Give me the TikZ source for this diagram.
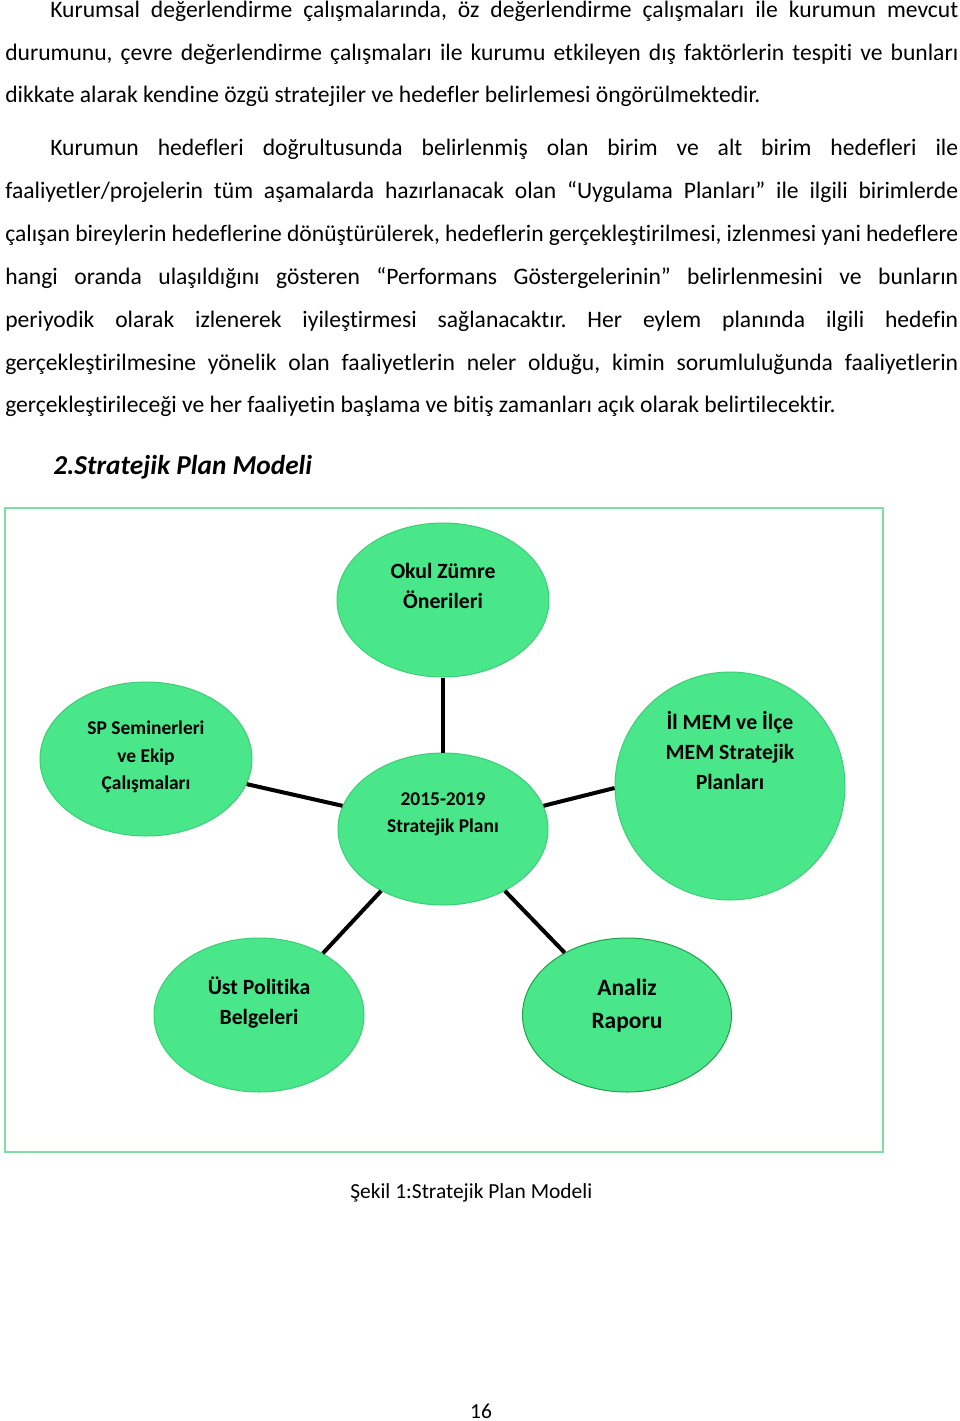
\documentclass[tikz,border=0pt]{standalone}
\usepackage{fontspec}
\setmainfont[Ligatures={NoCommon,NoRare,NoContextual}]{Carlito}
\usetikzlibrary{shapes.geometric}
\definecolor{bubble}{RGB}{74,230,138}
\definecolor{bubbleline}{RGB}{60,205,120}
\definecolor{bubbledark}{RGB}{35,160,75}
\definecolor{frameg}{RGB}{125,222,165}
\frenchspacing
\newcommand\bodyfnt{\fontsize{17.7}{21}\selectfont}
\newcommand\capfnt{\fontsize{16.1}{19}\selectfont}
\newcommand\fullw[1]{\makebox[714.75pt][s]{#1}}
\newcommand\indw[1]{\makebox[681pt][s]{#1}}
\begin{document}
\begin{tikzpicture}[x=0.75pt,y=-0.75pt,
  bodyline/.style={anchor=base west,inner sep=0pt,font=\bodyfnt},
  bub/.style={ellipse,draw=bubbleline,line width=0.75pt,fill=bubble,inner sep=0pt},
  btext/.style={align=center,inner sep=0pt,font=\fontsize{16.3}{22.5}\selectfont\bfseries},
  btextsm/.style={align=center,inner sep=0pt,font=\fontsize{14.6}{20.5}\selectfont\bfseries},
  btextlg/.style={align=center,inner sep=0pt,font=\fontsize{17.6}{24.75}\selectfont\bfseries},
  conn/.style={line width=3pt,black}]
\useasboundingbox (0,0) rectangle (960,1421);
\fill[white] (0,0) rectangle (960,1421);

% paragraph 1
\node[bodyline] (p1a) at (50,17) {\indw{Kurumsal değerlendirme çalışmalarında, öz değerlendirme çalışmaları ile kurumun mevcut}};
\node[bodyline] (p1b) at (5,60) {\fullw{durumunu, çevre değerlendirme çalışmaları ile kurumu etkileyen dış faktörlerin tespiti ve bunları}};
\node[bodyline] (p1c) at (5,102) {dikkate alarak kendine özgü stratejiler ve hedefler belirlemesi öngörülmektedir.};

% paragraph 2
\node[bodyline] (p2a) at (50,155) {\indw{Kurumun hedefleri doğrultusunda belirlenmiş olan birim ve alt birim hedefleri ile}};
\node[bodyline] (p2b) at (5,198) {\fullw{faaliyetler/projelerin tüm aşamalarda hazırlanacak olan “Uygulama Planları” ile ilgili birimlerde}};
\node[bodyline] (p2c) at (5,241) {\fullw{çalışan bireylerin hedeflerine dönüştürülerek, hedeflerin gerçekleştirilmesi, izlenmesi yani hedeflere}};
\node[bodyline] (p2d) at (5,284) {\fullw{hangi oranda ulaşıldığını gösteren “Performans Göstergelerinin” belirlenmesini ve bunların}};
\node[bodyline] (p2e) at (5,327) {\fullw{periyodik olarak izlenerek iyileştirmesi sağlanacaktır. Her eylem planında ilgili hedefin}};
\node[bodyline] (p2f) at (5,370) {\fullw{gerçekleştirilmesine yönelik olan faaliyetlerin neler olduğu, kimin sorumluluğunda faaliyetlerin}};
\node[bodyline] (p2g) at (5,412) {gerçekleştirileceği ve her faaliyetin başlama ve bitiş zamanları açık olarak belirtilecektir.};

% heading
\node[anchor=base west,inner sep=0pt,font=\fontsize{20.5}{24}\selectfont\bfseries\itshape] (head) at (53,474) {2.Stratejik Plan Modeli};

% frame
\draw[frameg,line width=1.5pt] (5,508) rectangle (883,1152);

% bubbles
\node[bub,minimum width=159pt,minimum height=115.5pt] (okul) at (443,600) {};
\node[bub,minimum width=159pt,minimum height=115.5pt] (sp) at (146,759) {};
\node[bub,minimum width=157.5pt,minimum height=114pt] (cen) at (443,829) {};
\node[bub,minimum width=172.5pt,minimum height=171pt] (il) at (730,786) {};
\node[bub,minimum width=157.5pt,minimum height=115.5pt] (ust) at (259,1015) {};
\node[bub,draw=bubbledark,minimum width=156.75pt,minimum height=115.5pt] (analiz) at (627,1015) {};

% connectors
\draw[conn] (okul.270) -- (cen.90);
\draw[conn] (sp.-14) -- (cen.167);
\draw[conn] (cen.13.5) -- (il.181);
\draw[conn] (cen.225.4) -- (ust.44.5);
\draw[conn] (cen.-45) -- (analiz.135);

% bubble texts
\node[btext] (okult) at (443,586) {Okul Zümre\\Önerileri};
\node[btextsm] (spt) at (146,757) {SP Seminerleri\\ve Ekip\\Çalışmaları};
\node[btextsm] (cent) at (443,814.5) {2015-2019\\Stratejik Planı};
\node[btext] (ilt) at (730,750.5) {İl MEM ve İlçe\\MEM Stratejik\\Planları};
\node[btext] (ustt) at (259,1002.5) {Üst Politika\\Belgeleri};
\node[btextlg] (analizt) at (627,1006) {Analiz\\Raporu};

% caption and page number
\node[anchor=base west,inner sep=0pt,font=\capfnt] (cap) at (350,1198) {Şekil 1:Stratejik Plan Modeli};
\node[anchor=base,inner sep=0pt,font=\capfnt] (pnum) at (481,1418) {16};
\end{tikzpicture}
\end{document}
